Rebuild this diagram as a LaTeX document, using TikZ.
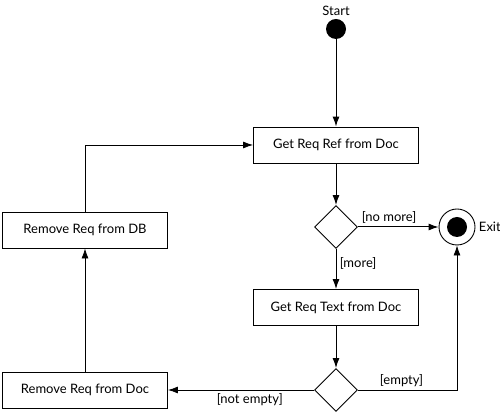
\documentclass[tikz,border=0pt]{standalone}
\usepackage{fontspec}
\setmainfont{Lato}
\usetikzlibrary{arrows.meta, shapes.geometric}

\begin{document}
\begin{tikzpicture}[x=1pt, y=1pt, font=\fontsize{13}{15}\selectfont,
        action/.style={draw, line width=0.9pt, minimum width=165pt, minimum height=36pt, inner sep=0pt},
        choice/.style={draw, diamond, line width=0.9pt, minimum width=43pt, minimum height=43pt, inner sep=0pt},
        flow/.style={-{Latex[length=10pt, width=7pt]}, line width=1pt},
        back/.style={-{Latex[length=10pt, width=7pt]}, line width=0.8pt}]
        \useasboundingbox (0, 0) rectangle (500, 414);
        % Nodes
        \node [circle, fill=black, minimum size=20pt, inner sep=0pt] (start) at (336, 385) {};
        \node [above=0pt] (startlbl) at (start.north) {Start};
        \node [action] (getref) at (336, 269) {Get Req Ref from Doc};
        \node [choice] (more) at (336, 187) {};
        \node [circle, draw, line width=0.9pt, minimum size=36pt, inner sep=0pt] (exit) at (457, 187) {};
        \node [circle, fill=black, minimum size=20pt, inner sep=0pt] (exitdot) at (exit) {};
        \node [right=0pt] (exitlbl) at (exit.east) {Exit};
        \node [action] (gettext) at (336, 106.5) {Get Req Text from Doc};
        \node [choice] (empty) at (336, 24) {};
        \node [action] (remdoc) at (85, 24) {Remove Req from Doc};
        \node [action] (remdb) at (85, 184) {Remove Req from DB};
        % Edges
        \draw [flow] (start) -- (getref);
        \draw [flow] (getref) -- (more);
        \draw [flow] (more.east) -- node [pos=0, above right] {[no more]} (exit);
        \draw [flow] (more.south) -- node [pos=0.35, right] {[more]} (gettext);
        \draw [flow] (gettext) -- (empty);
        \draw [back] (empty.east) -| node [pos=0.22, above] {[empty]} (exit.south);
        \draw [back] (empty.west) -- node [pos=0.44, below] {[not empty]} (remdoc.east);
        \draw [back] (remdoc) -- (remdb);
        \draw [back] (remdb.north) |- (getref.west);
    \end{tikzpicture}
\end{document}
